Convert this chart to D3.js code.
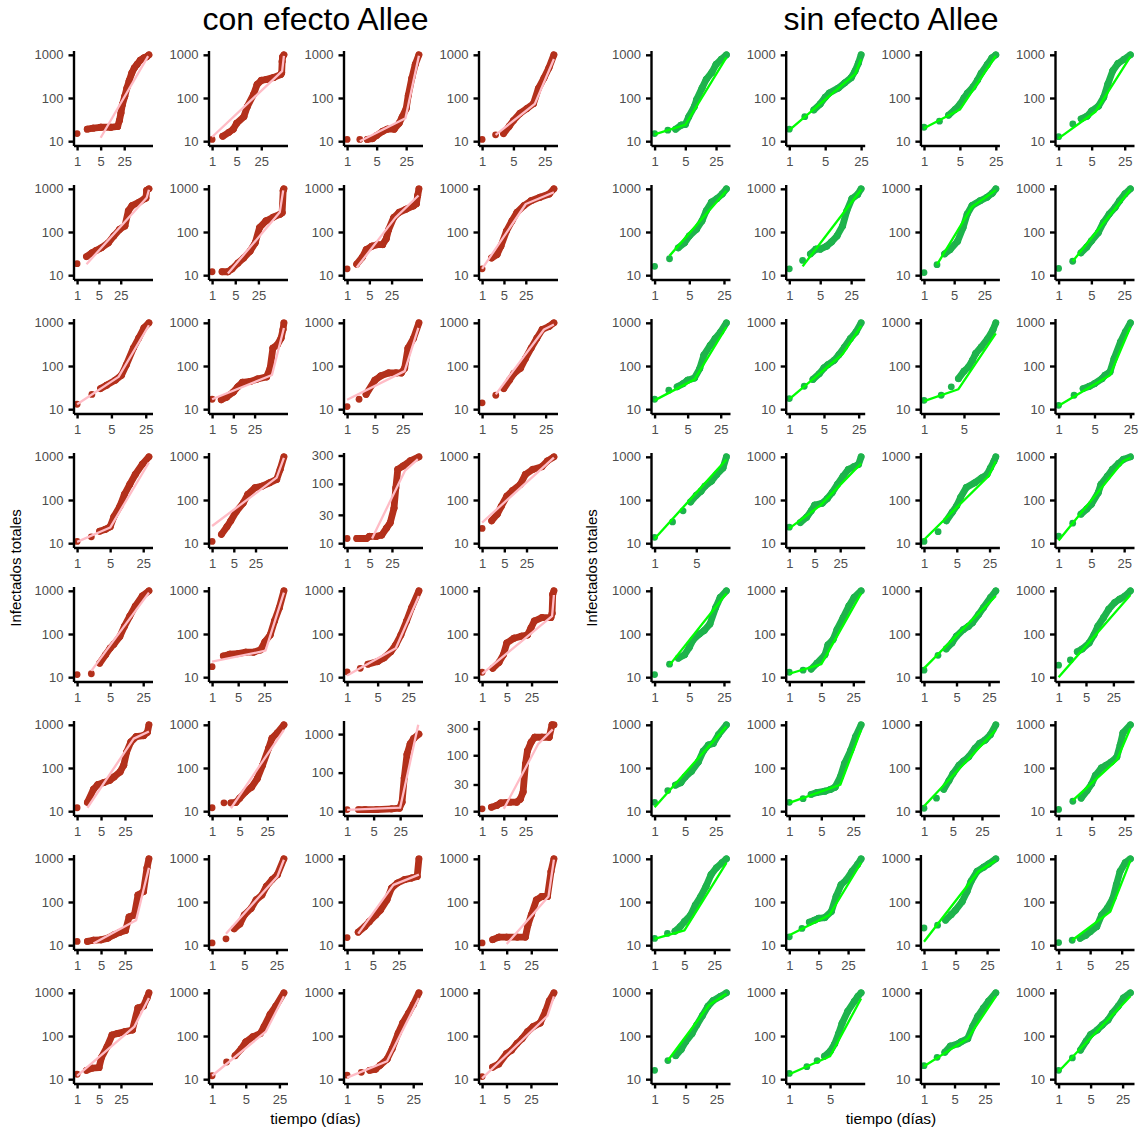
<!DOCTYPE html>
<html>
<head>
<meta charset="utf-8">
<script src="https://cdn.jsdelivr.net/npm/d3@7"></script>
<style>
  body { margin: 0; background: #fff; }
  text { font-family: "Liberation Sans", Arial, sans-serif; }
</style>
</head>
<body>
<svg id="chart" width="1141" height="1131"></svg>
<script>
var group_titles = ["con efecto Allee", "sin efecto Allee"];
var y_title = "Infectados totales";
var x_title = "tiempo (días)";
var x_breaks = [1, 5, 25];
var y_breaks_wide = [10, 100, 1000, 10000];
var y_breaks_narrow = [10, 30, 100, 300, 1000, 3000];
var initial_infected = 10;

// con efecto Allee: [day, infected] per panel, row by row
var allee_points = [
  [[1,15],[2,19],[3,20],[5,21],[10,21],[16,22],[18,30],[20,45],[22,70],[26,110],[30,170],[35,250],[42,380],[50,500],[60,600],[75,750],[95,850],[115,900],[135,1000]],
  [[1,11],[2,13],[3,16],[4,19],[5,26],[8,37],[10,63],[15,120],[19,205],[25,255],[36,270],[57,300],[89,350],[95,380],[98,700],[101,900],[110,1000]],
  [[1,11],[2,11],[3,11],[4,11.5],[5,13.5],[7,17],[9,19],[13,19],[17,26],[20,36],[25,57],[28,115],[34,290],[41,600],[50,1000]],
  [[1,11],[2,14],[3,15],[4,22],[5,30],[7,44],[10,57],[14,74],[18,165],[24,290],[31,500],[40,1000]],
  [[1,18.5],[2,27],[3,33],[4,37],[6,43],[10,56],[15,81],[23,115],[34,138],[44,310],[58,410],[98,490],[146,590],[160,610],[170,920],[200,1000]],
  [[1,12],[2,12],[3,12],[4,14],[6,19],[9,25],[14,36],[20,56],[27,126],[42,180],[70,220],[115,260],[130,280],[140,920],[147,1000]],
  [[1,14],[2,18],[3,26],[4,39],[6,47],[9,51],[13,51],[17,70],[20,112],[29,215],[43,285],[72,340],[120,400],[150,450],[165,700],[180,1000]],
  [[1,14],[2,25],[3,30],[4,47],[6,105],[9,180],[13,285],[22,410],[37,530],[72,640],[140,760],[198,1000]],
  [[1,13],[2,22],[3,30],[4,36],[6,47],[8,61],[10,105],[14,260],[18,445],[23,760],[29,1000]],
  [[1,17],[2,16.5],[3,19],[5,25],[7,33],[10,42],[18,44],[31,50],[62,56],[81,89],[100,260],[140,310],[185,440],[215,700],[230,1000]],
  [[1,11.5],[2,17],[3,22],[5,47],[7,59],[11,69],[17,69],[23,69],[28,89],[34,260],[47,440],[64,1000]],
  [[1,14],[2,21],[3,30],[4,47],[5,67],[7,89],[9,150],[12,260],[16,440],[21,700],[30,830],[38,1000]],
  [[1,11],[2,14],[3,19],[4,21],[5,24],[6,41],[8,71],[10,134],[13,230],[17,390],[24,675],[33,1000]],
  [[1,11],[2,16],[3,24],[4,33],[6,54],[10,85],[14,134],[24,192],[41,210],[70,250],[120,300],[155,510],[205,1000]],
  [[1,12],[2,12],[3,12],[4,12],[5,13],[8,13],[12,13.7],[17,18],[22,22],[29,39],[33,85],[38,175],[56,200],[94,245],[173,285]],
  [[1,22],[2,33],[3,47],[4,71],[6,123],[9,165],[16,230],[23,390],[39,510],[76,590],[113,800],[182,1000]],
  [[1,11.5],[2,12],[3,21],[4,33],[5,47],[6,58],[8,87],[10,150],[13,260],[17,440],[24,760],[33,1000]],
  [[1,17.5],[2,31],[3,34],[5,35],[8,38],[13,38],[20,43],[26,66],[36,95],[47,200],[63,400],[84,1000]],
  [[1,13.3],[2,16],[3,20],[5,23],[7,28],[10,39],[13,56],[17,95],[23,200],[30,410],[44,1000]],
  [[1,13],[2,16],[3,22],[4,33],[5,62],[8,80],[13,89],[19,95],[24,138],[30,200],[49,240],[88,240],[95,300],[99,830],[107,1000]],
  [[1,12],[2,16],[3,32],[4,41],[6,46],[9,52],[12,62],[18,81],[23,116],[28,235],[37,400],[53,530],[87,560],[113,670],[125,1000]],
  [[1,12],[2,15.6],[3,15.6],[4,16],[5,20],[7,28],[10,36],[14,57],[19,116],[27,285],[33,490],[45,650],[66,1000]],
  [[1,11],[2,11],[3,11],[6,11],[15,11.5],[24,12],[28,17],[32,73],[38,300],[46,560],[57,770],[78,1000]],
  [[1,11],[2,11.8],[3,12.7],[4,14],[8,14.5],[13,14.5],[17,16.4],[21,22],[25,69],[29,120],[38,170],[50,210],[85,210],[146,210],[180,350],[207,350]],
  [[1,12.2],[2,12.2],[3,13],[5,13.3],[8,14.6],[12,17.4],[18,20],[26,22],[33,45],[47,50],[60,145],[87,175],[110,620],[125,1000]],
  [[1,11.3],[2,14],[3,24],[4,31],[5,50],[7,71],[9,112],[12,145],[15,230],[20,330],[26,430],[36,1000]],
  [[1,15],[2,20],[3,27],[4,35],[6,50],[8,65],[12,112],[16,210],[23,275],[36,330],[56,360],[79,390],[88,1000]],
  [[1,11.3],[2,13.4],[3,15.4],[5,15.4],[10,15.4],[17,15.4],[20,29],[25,50],[35,112],[50,134],[72,134],[91,510],[110,1000]],
  [[1,13],[2,16],[3,18],[5,18.5],[6,32],[9,56],[13,105],[20,115],[34,126],[58,138],[87,445],[130,490],[170,760],[195,1000]],
  [[1,12],[2,25],[3,35],[4,50],[5,73],[7,96],[10,114],[12,165],[16,315],[21,490],[31,1000]],
  [[1,12.4],[2,14.4],[3,16],[4,17],[5,21],[7,29],[9,51],[12,115],[15,200],[20,340],[25,530],[33,1000]],
  [[1,11.5],[2,19],[3,22.5],[5,39],[7,47],[10,67],[14,87],[20,126],[29,165],[46,200],[66,375],[84,650],[114,1000]]
];

var allee_fits = [
  [[5,12],[128,930]], [[1,12.5],[98,420],[110,950]], [[2,10],[24,34],[50,950]], [[2,14],[15,73],[40,800]],
  [[2,18],[170,620],[200,950]], [[3,11],[110,285],[140,920]], [[2,15],[33,215],[175,700]], [[1,14],[25,445],[198,830]],
  [[1,13],[7,56],[29,880]], [[1,17],[93,62],[230,760]], [[1,16.5],[28,76],[62,760]], [[2,22],[23,700],[38,910]],
  [[1,10.7],[5,23],[33,740]], [[1,25],[120,330],[205,950]], [[6,12],[63,165],[160,260]], [[1,30],[182,960]],
  [[2,14],[33,910]], [[1,23],[27,41],[84,910]], [[1,11],[13,47],[44,760]], [[1,12],[95,260],[107,800]],
  [[2,12],[45,480],[125,700]], [[3,11.7],[66,760]], [[1,10.8],[25,12.3],[75,1740]], [[5,11],[65,160],[190,290]],
  [[3,11],[53,38],[125,620]], [[2,18.5],[26,390],[36,950]], [[2,18.5],[18,250],[88,430]], [[5,10.7],[77,134],[110,960]],
  [[1,12],[67,165],[195,760]], [[1,12],[13,126],[31,830]], [[1,10.9],[7,26],[33,760]], [[1,10.4],[74,290],[114,830]]
];

// sin efecto Allee
var free_points = [
  [[1,15],[2,18],[3,19],[4,23.5],[5,24.5],[6,37],[8,63],[9,91],[12,170],[15,270],[20,390],[25,600],[33,790],[43,1000]],
  [[1,19],[2,37],[3,53],[4,73],[5,104],[6,130],[9,170],[12,225],[16,295],[19,420],[22,630],[25,1000]],
  [[1,21],[2,29],[3,40],[4,54],[5,71],[6,100],[7,130],[9,180],[11,260],[13,375],[17,590],[21,850],[25,1000]],
  [[1,12.7],[2,25],[3,33],[4,38],[5,50],[7,65],[9,104],[11,210],[14,430],[18,630],[24,780],[33,1000]],
  [[1,16],[2,24],[3,43],[4,56],[5,81],[7,116],[9,180],[11,310],[14,490],[18,590],[23,760],[28,1000]],
  [[1,14],[2,22],[3,31],[4,40],[5,40],[7,47],[9,59],[12,81],[16,138],[20,310],[26,590],[35,740],[42,1000]],
  [[1,11.5],[2,17.5],[3,31],[4,39],[6,61],[8,126],[10,260],[13,410],[20,530],[29,640],[38,790],[46,1000]],
  [[1,14.3],[2,21],[3,33],[4,45],[5,62],[7,96],[9,165],[12,260],[16,370],[20,530],[26,760],[34,1000]],
  [[1,17],[2,27.5],[3,33],[4,39],[5,47],[7,53],[9,87],[11,178],[15,300],[19,430],[25,620],[33,1000]],
  [[1,17.6],[2,34],[3,49],[4,66],[5,90],[6,107],[8,135],[10,182],[13,275],[17,430],[22,610],[28,1000]],
  [[1,16],[2,21],[3,33],[4,51],[5,76],[6,95],[7,135],[8,195],[10,275],[13,430],[16,680],[18,1000]],
  [[1,12.3],[2,21],[3,30],[4,34],[5,39],[7,51],[8,61],[10,73],[12,148],[16,360],[20,620],[25,1000]],
  [[1,13.7],[2,31],[3,56],[4,90],[5,128],[6,160],[7,210],[9,275],[11,390],[14,550],[16,1000]],
  [[1,23.5],[2,30],[3,40],[4,56],[5,76],[8,84],[11,107],[15,148],[21,230],[30,355],[42,510],[59,590],[80,670],[94,1000]],
  [[1,11],[2,18.5],[3,33],[4,52],[5,74],[6,114],[8,195],[12,250],[17,325],[22,390],[26,550],[31,790],[34,1000]],
  [[1,14.5],[2,29],[3,47],[4,62],[5,80],[7,148],[8,230],[11,355],[14,510],[19,700],[24,870],[34,1000]],
  [[1,11.5],[2,20],[3,27.5],[4,33],[5,49],[6,74],[8,100],[10,120],[13,170],[17,410],[21,700],[28,1000]],
  [[1,13],[2,14.5],[3,15.4],[4,21],[6,33],[7,56],[9,74],[11,126],[15,240],[20,445],[26,700],[37,1000]],
  [[1,14.5],[2,32],[3,45],[4,62],[5,89],[7,126],[9,150],[11,182],[15,285],[19,410],[27,700],[35,1000]],
  [[1,19],[2,25],[3,39],[4,45],[6,62],[8,96],[10,150],[14,240],[19,375],[27,535],[36,640],[50,760],[68,1000]],
  [[1,16],[2,30],[3,40],[4,46],[5,62],[7,84],[10,138],[13,245],[17,340],[22,370],[29,590],[44,1000]],
  [[1,16],[2,19.5],[3,24.5],[4,27],[6,29],[8,32],[10,36],[13,62],[16,126],[22,260],[28,530],[37,1000]],
  [[1,11.7],[2,20],[3,32],[4,51],[5,74],[7,116],[9,145],[12,182],[17,285],[22,370],[30,445],[40,590],[54,1000]],
  [[1,11],[2,17],[3,20],[4,30],[5,43],[6,67],[8,100],[10,115],[13,138],[17,180],[20,340],[23,650],[33,1000]],
  [[1,14.3],[2,18.7],[3,21],[4,27],[5,35],[7,50],[9,85],[12,133],[16,230],[21,430],[28,620],[38,810],[48,1000]],
  [[1,15.6],[2,24.5],[3,34],[4,38],[5,42],[7,43.5],[10,60],[13,135],[17,250],[23,330],[31,510],[42,740],[51,1000]],
  [[1,25],[2,29],[3,38],[4,51],[5,65],[7,102],[9,175],[11,300],[15,510],[21,640],[27,760],[39,1000]],
  [[1,11.5],[2,13],[3,14.4],[4,17],[5,20.5],[7,27],[9,50],[12,72],[16,123],[19,250],[23,510],[30,810],[39,1000]],
  [[1,16],[2,27],[3,35],[4,49],[5,73],[7,113],[9,180],[12,295],[16,485],[21,660],[31,830],[42,1000]],
  [[1,13.6],[2,19.5],[3,27],[4,34],[5,44],[6,66],[7,114],[8,195],[10,370],[13,630],[15,830],[17,1000]],
  [[1,20.5],[2,32],[3,42],[4,58],[6,66],[7,73],[10,87],[13,165],[17,285],[23,445],[30,640],[44,1000]],
  [[1,16],[2,31],[3,47],[4,76],[5,108],[7,138],[9,180],[12,235],[15,340],[20,490],[26,760],[37,1000]]
];

var free_fits = [
  [[1,14.4],[5,24],[43,870]], [[1,18],[19,355],[25,790]], [[1,20],[5,54],[25,940]], [[1,11.6],[6,48],[33,910]],
  [[2,28],[28,900]], [[2,16],[42,950]], [[2,17.5],[13,385],[46,930]], [[2,21],[34,950]],
  [[1,16],[7,49],[33,800]], [[1,17],[12,190],[28,850]], [[1,15.3],[4,29],[18,570]], [[1,12],[10,61],[25,800]],
  [[1,12.6],[16,870]], [[1,22],[7,74],[94,700]], [[1,12],[24,360],[34,790]], [[1,11.5],[24,800],[34,950]],
  [[2,19],[28,870]], [[1,12],[5,20],[37,870]], [[1,16],[35,760]], [[1,10],[68,800]],
  [[1,12.4],[44,910]], [[1,15.6],[13,41],[37,760]], [[1,13],[54,760]], [[2,17.8],[17,152],[33,830]],
  [[1,14],[5,22],[48,810]], [[1,17],[9,50],[51,810]], [[1,12],[16,510],[39,910]], [[2,13],[14,60],[39,910]],
  [[2,27],[17,520],[42,950]], [[1,13],[5,34],[17,740]], [[1,20],[10,87],[44,830]], [[1,15],[37,830]]
];

var dot_colors = ["#b3301b", "#1eb34c"];
var fit_colors = ["#ffbcc6", "#00ff00"];

var svg = d3.select("#chart");
var panel_w = 79, panel_h = 95;
var col_x = [[73.5, 208.5, 343.5, 478.5], [651, 785.7, 920.4, 1055]];
var row_y0 = 50.5, row_step = 134;
var dot_r = 3.4;

svg.append("rect").attr("width", 1141).attr("height", 1131).attr("fill", "#fff");

function log_expand(lo, hi) {
  var a = Math.log10(lo), b = Math.log10(hi), e = (b - a) * 0.05;
  return [Math.pow(10, a - e), Math.pow(10, b + e)];
}

function draw_panel(g, pts, fit, dot_color, fit_color) {
  var last_day = d3.max(pts, function(d) { return d[0]; });
  var ys = pts.map(function(d) { return d[1]; })
    .concat(fit.map(function(d) { return d[1]; }))
    .concat([initial_infected]);
  var ylo = d3.min(ys), yhi = d3.max(ys);

  var x = d3.scaleLog().domain(log_expand(1, last_day)).range([0, panel_w]);
  var y = d3.scaleLog().domain(log_expand(ylo, yhi)).range([panel_h, 0]);

  var ybreaks = (Math.log10(yhi / ylo) < 1.8) ? y_breaks_narrow : y_breaks_wide;
  var dom = y.domain();
  ybreaks = ybreaks.filter(function(v) { return v >= dom[0] && v <= dom[1]; });
  var xdom = x.domain();
  var xbreaks = x_breaks.filter(function(v) { return v >= xdom[0] && v <= xdom[1]; });

  // dense runs of daily points drawn as a thick band
  var pairs = [];
  for (var i = 0; i < pts.length - 1; i++) {
    var a = pts[i], b = pts[i + 1];
    if (b[0] - a[0] > 1 || x(b[0]) - x(a[0]) < 2 * dot_r) pairs.push([a, b]);
  }
  g.selectAll(".band")
      .data(pairs)
    .enter().append("line")
      .attr("x1", function(d) { return x(d[0][0]); })
      .attr("y1", function(d) { return y(d[0][1]); })
      .attr("x2", function(d) { return x(d[1][0]); })
      .attr("y2", function(d) { return y(d[1][1]); })
      .style("stroke", dot_color)
      .style("stroke-width", 2 * dot_r)
      .style("stroke-linecap", "round");

  g.selectAll(".dot")
      .data(pts)
    .enter().append("circle")
      .attr("cx", function(d) { return x(d[0]); })
      .attr("cy", function(d) { return y(d[1]); })
      .attr("r", dot_r)
      .style("fill", dot_color);

  var line = d3.line()
      .x(function(d) { return x(d[0]); })
      .y(function(d) { return y(d[1]); });
  g.append("path")
      .datum(fit)
      .attr("d", line)
      .style("fill", "none")
      .style("stroke", fit_color)
      .style("stroke-width", 2.3)
      .style("stroke-linejoin", "round");

  var yaxis = g.append("g")
      .call(d3.axisLeft(y).tickValues(ybreaks).tickFormat(function(d) { return String(d); })
        .tickSize(5).tickSizeOuter(0).tickPadding(5));
  var xaxis = g.append("g")
      .attr("transform", "translate(0," + panel_h + ")")
      .call(d3.axisBottom(x).tickValues(xbreaks).tickFormat(function(d) { return String(d); })
        .tickSize(5).tickSizeOuter(0).tickPadding(6.5));

  [yaxis, xaxis].forEach(function(ax) {
    ax.select(".domain").style("stroke", "#000").style("stroke-width", 2.4);
    ax.selectAll(".tick line").style("stroke", "#000").style("stroke-width", 2.4);
    ax.selectAll(".tick text")
      .style("fill", "#4d4d4d")
      .style("font-size", "13px")
      .style("font-family", "'Liberation Sans', Arial, sans-serif");
  });
}

var groups = [[allee_points, allee_fits], [free_points, free_fits]];
for (var gi = 0; gi < 2; gi++) {
  for (var p = 0; p < 32; p++) {
    var r = Math.floor(p / 4), c = p % 4;
    var g = svg.append("g")
        .attr("transform", "translate(" + col_x[gi][c] + "," + (row_y0 + r * row_step) + ")");
    draw_panel(g, groups[gi][0][p], groups[gi][1][p], dot_colors[gi], fit_colors[gi]);
  }
}

var centers = [315.5, 891];
var ylab_x = [16, 592];
for (var k = 0; k < 2; k++) {
  svg.append("text")
      .attr("x", centers[k]).attr("y", 30)
      .attr("text-anchor", "middle")
      .style("font-size", "32px")
      .style("fill", "#000")
      .text(group_titles[k]);
  svg.append("text")
      .attr("x", centers[k]).attr("y", 1124)
      .attr("text-anchor", "middle")
      .style("font-size", "15.5px")
      .style("fill", "#000")
      .text(x_title);
  svg.append("text")
      .attr("transform", "translate(" + (ylab_x[k] + 5) + ",568) rotate(-90)")
      .attr("text-anchor", "middle")
      .style("font-size", "15px")
      .style("fill", "#000")
      .text(y_title);
}
</script>
</body>
</html>
